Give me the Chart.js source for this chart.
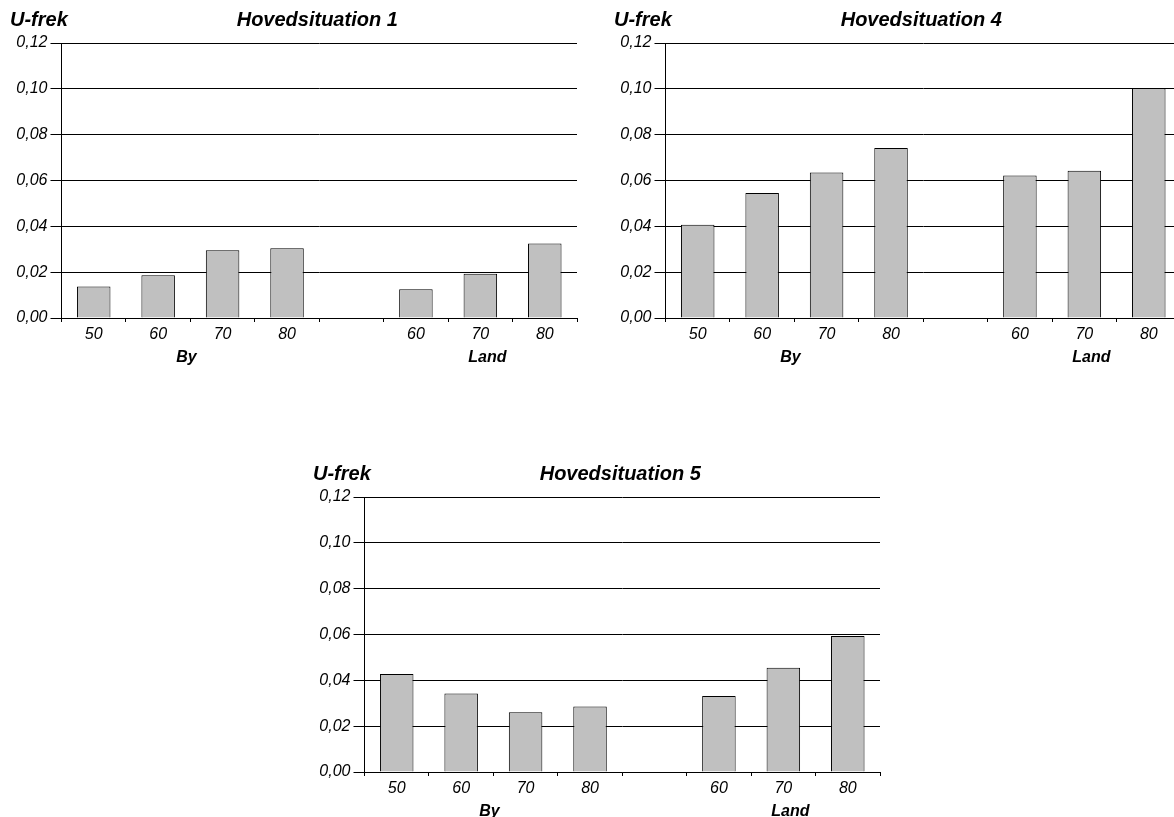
<!DOCTYPE html>
<html>
<head>
<meta charset="utf-8">
<script src="https://cdn.jsdelivr.net/npm/chart.js@4/dist/chart.umd.min.js"></script>
<style>
  html, body { margin: 0; padding: 0; background: #fff; width: 1174px; height: 817px; overflow: hidden; }
  .box { position: absolute; width: 590px; height: 380px; }
</style>
</head>
<body>
<div class="box" style="left:0px;top:0px"><canvas id="c1"></canvas></div>
<div class="box" style="left:604px;top:0px"><canvas id="c4"></canvas></div>
<div class="box" style="left:303px;top:454px"><canvas id="c5"></canvas></div>
<script>
// kategorier (tom plads mellem By og Land)
const categories = ['50', '60', '70', '80', '', '60', '70', '80']
const groupLabels = ['By', 'Land']
const yLabel = 'U-frek'

const hs1 = [0.0137, 0.0187, 0.0296, 0.0304, null, 0.0126, 0.0193, 0.0325]
const hs4 = [0.0407, 0.0546, 0.0635, 0.0742, null, 0.0622, 0.0643, 0.1003]
const hs5 = [0.0428, 0.0343, 0.0261, 0.0286, null, 0.0332, 0.0455, 0.0593]

const FONT = '"Liberation Sans", Arial, sans-serif'

// tegner titler og gruppe-etiketter
const textPlugin = {
  id: 'texts',
  afterDraw(chart, args, opts) {
    const ctx = chart.ctx
    const x = chart.scales.x
    ctx.save()
    ctx.fillStyle = '#000'
    ctx.textBaseline = 'alphabetic'
    ctx.font = 'italic bold 20px ' + FONT
    ctx.textAlign = 'left'
    ctx.fillText(yLabel, 10, 26)
    ctx.textAlign = 'center'
    ctx.fillText(opts.title, (chart.chartArea.left + chart.chartArea.right) / 2-2, 26)
    ctx.font = 'italic bold 16px ' + FONT
    const byX = (x.getPixelForValue(1) + x.getPixelForValue(2)) / 2 - 4
    const landX = x.getPixelForValue(6) + 7
    ctx.fillText(groupLabels[0], byX, 362)
    ctx.fillText(groupLabels[1], landX, 362)
    ctx.restore()
  }
}

function makeChart(id, title, values) {
  const ctx = document.getElementById(id).getContext('2d')
  return new Chart(ctx, {
    type: 'bar',
    data: {
      labels: categories,
      datasets: [{
        data: values,
        backgroundColor: '#c0c0c0',
        borderColor: '#000',
        borderWidth: 1,
        barPercentage: 0.52,
        categoryPercentage: 1.0
      }]
    },
    options: {
      responsive: true,
      maintainAspectRatio: false,
      animation: false,
      layout: { padding: { left: 0, right: 13, top: 43, bottom: 22 } },
      plugins: {
        legend: { display: false },
        tooltip: { enabled: false },
        texts: { title: title }
      },
      scales: {
        x: {
          type: 'category',
          afterFit: s => { s.height = 40 },
          grid: { display: true, drawOnChartArea: false, color: '#000', tickLength: 4 },
          border: { display: true, color: '#000' },
          ticks: { color: '#000', font: { family: FONT, size: 16, style: 'italic' }, padding: 3, maxRotation: 0 }
        },
        y: {
          min: 0,
          max: 0.12,
          afterFit: s => { s.width = 61.5 },
          grid: { color: '#000', tickLength: 11 },
          border: { display: true, color: '#000' },
          ticks: {
            stepSize: 0.02,
            color: '#000',
            padding: 3,
            font: { family: FONT, size: 16, style: 'italic' },
            callback: v => v.toFixed(2).replace('.', ',')
          }
        }
      }
    },
    plugins: [textPlugin]
  })
}

makeChart('c1', 'Hovedsituation 1', hs1)
makeChart('c4', 'Hovedsituation 4', hs4)
makeChart('c5', 'Hovedsituation 5', hs5)
</script>
</body>
</html>
